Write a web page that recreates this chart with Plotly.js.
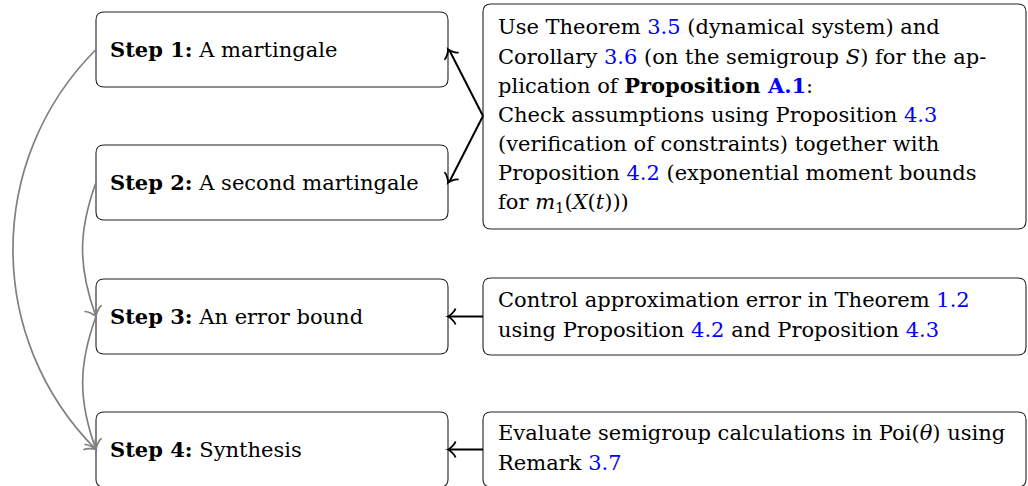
<!DOCTYPE html>
<html>
<head>
<meta charset="utf-8">
<script src="https://cdn.plot.ly/plotly-3.0.1.min.js"></script>
<style>html,body{margin:0;padding:0;background:#fff;}#chart{width:1028px;height:486px;}</style>
</head>
<body>
<div id="chart"></div>
<script>
// ---- content ----
const stepLabels = ["Step 1:", "Step 2:", "Step 3:", "Step 4:"];
const stepTitles = ["A martingale", "A second martingale", "An error bound", "Synthesis"];
const L = (s) => '<span style="color:#0000ff">' + s + '</span>';
const noteLines = [
  [
    "Use Theorem " + L("3.5") + " (dynamical system) and",
    "Corollary " + L("3.6") + " (on the semigroup <i>S</i>) for the ap-",
    "plication of <b>Proposition " + L("A.1") + "</b>:",
    "Check assumptions using Proposition " + L("4.3"),
    "(verification of constraints) together with",
    "Proposition " + L("4.2") + " (exponential moment bounds",
    "for <i>m</i><sub>1</sub>(<i>X</i>(<i>t</i>)))"
  ],
  [
    "Control approximation error in Theorem " + L("1.2"),
    "using Proposition " + L("4.2") + " and Proposition " + L("4.3")
  ],
  [
    "Evaluate semigroup calculations in Poi(<i>θ</i>) using",
    "Remark " + L("3.7")
  ]
];
const noteTargets = [[0, 1], [2], [3]];       // note -> steps it feeds
const bendLinks = [[0, 3, 45], [1, 2, 20], [2, 3, 20]]; // from step, to step, bend angle

// ---- layout geometry ----
const W = 1028, H = 486;
const stepX0 = 96, stepX1 = 448, stepH = 75;
const stepTop = [12, 145, 279, 412];
const noteX0 = 483, noteX1 = 1026;
const noteY = [[4, 229], [278, 355], [412, 487]];
const lineGap = 29.2;
const FONT = "DejaVu Serif";
const FS = 21;

function rr(x0, y0, x1, y1, r) {
  return `M ${x0 + r},${y0} L ${x1 - r},${y0} Q ${x1},${y0} ${x1},${y0 + r} L ${x1},${y1 - r} Q ${x1},${y1} ${x1 - r},${y1} L ${x0 + r},${y1} Q ${x0},${y1} ${x0},${y1 - r} L ${x0},${y0 + r} Q ${x0},${y0} ${x0 + r},${y0} Z`;
}
// TikZ "to" arrow tip at (tx,ty), pointing along (dx,dy)
function tip(tx, ty, dx, dy, u) {
  const n = Math.hypot(dx, dy); dx /= n; dy /= n;
  const nx = -dy, ny = dx;
  const P = (a, b) => { const aa = (a - 0.75) * u; return (tx + aa * dx + b * u * nx).toFixed(2) + "," + (ty + aa * dy + b * u * ny).toFixed(2); };
  return `M ${P(-3, 4)} C ${P(-2.75, 2.5)} ${P(0, 0.25)} ${P(0.75, 0)} C ${P(0, -0.25)} ${P(-2.75, -2.5)} ${P(-3, -4)}`;
}

const shapes = [];
const annotations = [];
const stepMid = stepTop.map(t => t + stepH / 2);

// step boxes
stepTop.forEach((t, i) => {
  shapes.push({type: "path", xref: "x", yref: "y", path: rr(stepX0, t, stepX1, t + stepH, 8),
    line: {color: "#222", width: 1.1}, fillcolor: "rgba(0,0,0,0)"});
  annotations.push({xref: "x", yref: "y", x: 108, y: stepMid[i], xanchor: "left", yanchor: "middle",
    showarrow: false, text: "<b>" + stepLabels[i] + "</b> " + stepTitles[i],
    font: {family: FONT, size: FS, color: "#000"}});
});

// note boxes
noteY.forEach((yy, k) => {
  shapes.push({type: "path", xref: "x", yref: "y", path: rr(noteX0, yy[0], noteX1, yy[1], 8),
    line: {color: "#222", width: 1.1}, fillcolor: "rgba(0,0,0,0)"});
  const lines = noteLines[k];
  const mid = (yy[0] + yy[1]) / 2 - 1.5;
  lines.forEach((ln, j) => {
    annotations.push({xref: "x", yref: "y", x: 496, y: mid + (j - (lines.length - 1) / 2) * lineGap,
      xanchor: "left", yanchor: "middle", showarrow: false, text: ln,
      font: {family: FONT, size: FS, color: "#000"}});
  });
  // arrows from note to steps
  const srcY = k === 0 ? 116 : stepMid[noteTargets[k][0]];
  noteTargets[k].forEach(s => {
    const ty = stepMid[s];
    shapes.push({type: "path", xref: "x", yref: "y", path: `M ${noteX0},${srcY} L ${stepX1 + 1},${ty}`,
      line: {color: "#000", width: 2}});
    shapes.push({type: "path", xref: "x", yref: "y", path: tip(stepX1, ty, stepX1 - noteX0, ty - srcY, 2),
      line: {color: "#000", width: 1.8}});
  });
});

// bent grey arrows on the left
bendLinks.forEach(([a, b, ang]) => {
  const y0 = stepMid[a], y1 = stepMid[b];
  const chord = y1 - y0;
  const c = 0.3915 * chord, th = ang * Math.PI / 180;
  const c1x = stepX0 - c * Math.sin(th), c1y = y0 + c * Math.cos(th);
  const c2x = stepX0 - c * Math.sin(th), c2y = y1 - c * Math.cos(th);
  shapes.push({type: "path", xref: "x", yref: "y",
    path: `M ${stepX0},${y0} C ${c1x},${c1y} ${c2x},${c2y} ${stepX0},${y1}`,
    line: {color: "#808080", width: 1.7}});
  shapes.push({type: "path", xref: "x", yref: "y", path: tip(stepX0, y1, stepX0 - c2x, y1 - c2y, 2.3),
    line: {color: "#808080", width: 1.6}});
});

const layout = {
  width: W, height: H,
  margin: {l: 0, r: 0, t: 0, b: 0, pad: 0},
  paper_bgcolor: "#ffffff", plot_bgcolor: "#ffffff",
  xaxis: {range: [0, W], visible: false, fixedrange: true},
  yaxis: {range: [H, 0], visible: false, fixedrange: true},
  showlegend: false, hovermode: false,
  shapes: shapes, annotations: annotations
};
Plotly.newPlot("chart", [], layout, {displayModeBar: false, staticPlot: true});
</script>
</body>
</html>
